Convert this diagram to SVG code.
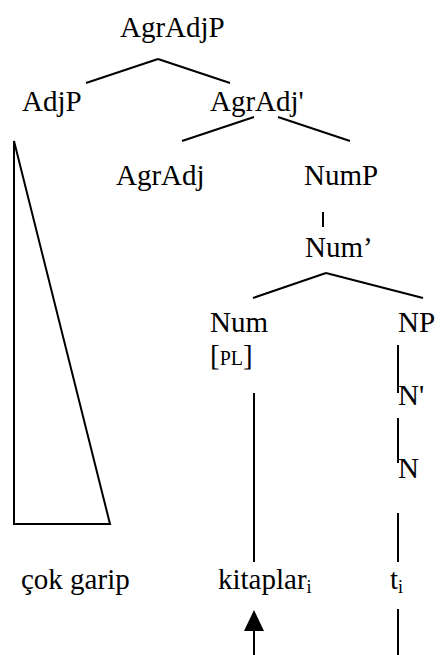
<svg xmlns="http://www.w3.org/2000/svg" width="440" height="655" viewBox="0 0 440 655">
<style>
text{font-family:"Times New Roman","Liberation Serif",Tinos,"DejaVu Serif","Noto Serif",serif;font-size:29px;fill:#000}
.sub{font-size:18px}
.sc{font-size:20px}
line,polygon.tri{stroke:#000;stroke-width:2;fill:none}
</style>
<rect width="440" height="655" fill="#fff"/>
<g id="AgrAdjP"><text x="120" y="37">AgrAdjP</text></g>
<g id="AdjP"><text x="22" y="111">AdjP</text></g>
<g id="AgrAdjBar"><text x="210" y="111">AgrAdj'</text></g>
<g id="AgrAdj"><text x="116" y="185">AgrAdj</text></g>
<g id="NumP"><text x="304" y="185">NumP</text></g>
<g id="NumBar"><text x="305" y="257">Num’</text></g>
<g id="Num"><text x="210" y="332">Num</text><text x="210" y="365">[<tspan class="sc">PL</tspan>]</text></g>
<g id="NP"><text x="398" y="332">NP</text></g>
<g id="NBar"><text x="398" y="405">N'</text></g>
<g id="N"><text x="398" y="478">N</text></g>
<g id="cokgarip"><polygon class="tri" points="14,141 14,524 110,524"/><text x="21" y="589">çok garip</text></g>
<g id="kitaplar"><text x="218" y="589">kitaplar<tspan class="sub" dy="4">i</tspan></text></g>
<g id="trace"><text x="390" y="589">t<tspan class="sub" dy="4">i</tspan></text></g>
<g id="connectors">
<line x1="158" y1="59" x2="86" y2="83"/>
<line x1="158" y1="59" x2="230" y2="83"/>
<line x1="254" y1="117" x2="182" y2="141"/>
<line x1="278" y1="117" x2="350" y2="141"/>
<line x1="323" y1="212" x2="323" y2="227"/>
<line x1="326" y1="273" x2="253" y2="298"/>
<line x1="326" y1="273" x2="423" y2="298"/>
<line x1="398" y1="345" x2="398" y2="393"/>
<line x1="398" y1="418" x2="398" y2="463"/>
<line x1="398" y1="513" x2="398" y2="562"/>
<line x1="398" y1="609" x2="398" y2="655"/>
<line x1="254" y1="393" x2="254" y2="562"/>
<line x1="254" y1="630" x2="254" y2="655"/>
<polygon points="254,610 244,631 264,631" fill="#000"/>
</g>
</svg>
